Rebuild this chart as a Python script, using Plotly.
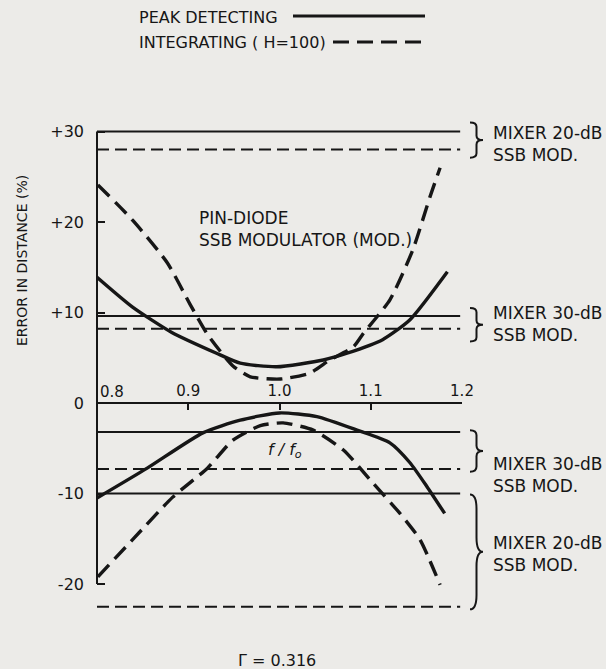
import plotly.graph_objects as go

# ---------------- data ----------------
# Peak detecting, positive error branch
peak_up_x = [0.800, 0.839, 0.882, 0.931, 0.957, 0.997, 1.048, 1.074, 1.113, 1.143, 1.184]
peak_up_y = [13.9, 10.6, 7.8, 5.5, 4.4, 4.0, 4.75, 5.5, 7.0, 9.2, 14.5]
# Integrating (H=100), positive error branch
int_up_x = [0.801, 0.839, 0.877, 0.902, 0.921, 0.949, 0.968, 1.001, 1.033, 1.055, 1.081, 1.092, 1.121, 1.146, 1.165, 1.176]
int_up_y = [24.1, 20.2, 15.5, 10.9, 7.6, 4.1, 2.9, 2.65, 3.3, 4.75, 6.2, 7.7, 11.4, 16.9, 22.8, 26.0]
# Peak detecting, negative error branch
peak_lo_x = [0.800, 0.855, 0.916, 0.957, 1.000, 1.041, 1.085, 1.121, 1.143, 1.162, 1.181]
peak_lo_y = [-10.5, -7.2, -3.3, -1.9, -1.1, -1.5, -3.0, -4.4, -6.6, -9.3, -12.2]
# Integrating (H=100), negative error branch
int_lo_x = [0.801, 0.839, 0.883, 0.921, 0.949, 0.979, 1.004, 1.037, 1.070, 1.102, 1.132, 1.154, 1.176]
int_lo_y = [-19.2, -15.1, -10.4, -7.2, -4.1, -2.5, -2.2, -3.0, -5.2, -8.8, -12.2, -15.1, -20.1]

# Mixer SSB modulator error levels (constant over f/f0)
mixer_x = [0.800, 1.198]
mixer20_peak = [30.0, -10.0]
mixer20_int = [28.0, -22.5]
mixer30_peak = [9.6, -3.2]
mixer30_int = [8.2, -7.3]

x_ticks = [0.8, 0.9, 1.0, 1.1, 1.2]
x_ticktext = ["0.8", "0.9", "1.0", "1.1", "1.2"]
y_ticks = [30, 20, 10, 0, -10, -20]
y_ticktext = ["+30", "+20", "+10", "0", "-10", "-20"]

# ---------------- layout geometry ----------------
W, H = 606, 669
ML, MR, MT, MB = 97, 144, 104, 40
ZERO_PX, PX_PER_UNIT = 403, 9.05
Y_MAX = (ZERO_PX - MT) / PX_PER_UNIT
Y_MIN = -((H - MB) - ZERO_PX) / PX_PER_UNIT
X_MIN, X_MAX = 0.8, 1.2

INK = "#161616"
BG = "#ecebe8"
FONT = "DejaVu Sans"


def xp(v):
    return (v - X_MIN) / (X_MAX - X_MIN)


def yp(v):
    return (v - Y_MIN) / (Y_MAX - Y_MIN)


def ppx(px):
    return (px - ML) / (W - ML - MR)


def ppy(py):
    return ((H - MB) - py) / (H - MT - MB)


fig = go.Figure()

CURVE_DASH = "16px,8px"
LEVEL_DASH = "12px,6px"

for xs, ys, dash in [
    (peak_up_x, peak_up_y, "solid"),
    (int_up_x, int_up_y, CURVE_DASH),
    (peak_lo_x, peak_lo_y, "solid"),
    (int_lo_x, int_lo_y, CURVE_DASH),
]:
    fig.add_trace(go.Scatter(x=xs, y=ys, mode="lines",
                             line=dict(color=INK, width=3.4, dash=dash,
                                       shape="spline", smoothing=0.6),
                             showlegend=False, hoverinfo="skip"))

for levels, dash in [(mixer20_peak, "solid"), (mixer20_int, LEVEL_DASH),
                     (mixer30_peak, "solid"), (mixer30_int, LEVEL_DASH)]:
    for lv in levels:
        fig.add_trace(go.Scatter(x=mixer_x, y=[lv, lv], mode="lines",
                                 line=dict(color=INK, width=2, dash=dash),
                                 showlegend=False, hoverinfo="skip"))

shapes = []
# left (ordinate) axis line from -20 to +30 with small foot
shapes.append(dict(type="line", xref="paper", yref="paper", x0=0, x1=0,
                   y0=yp(-20), y1=yp(30), line=dict(color=INK, width=2)))
shapes.append(dict(type="line", xref="paper", yref="paper", x0=0, x1=ppx(ML + 7),
                   y0=yp(-20), y1=yp(-20), line=dict(color=INK, width=2)))


def brace(top, bot, x0, x1):
    ym = (top + bot) / 2
    xm = (x0 + x1) / 2
    t, b, m = yp(top), yp(bot), yp(ym)
    c1 = (t - m) * 0.25
    c2 = (m - b) * 0.25
    return (f"M {x0},{t} Q {xm},{t} {xm},{t - c1} "
            f"L {xm},{m + c1} Q {xm},{m} {x1},{m} "
            f"Q {xm},{m} {xm},{m - c2} L {xm},{b + c2} Q {xm},{b} {x0},{b}")


bx0 = xp(X_MAX) + 8 / (W - ML - MR)
bx1 = xp(X_MAX) + 21 / (W - ML - MR)
brace_spans = [(31.0, 27.1), (10.5, 6.8), (-3.0, -7.6), (-10.1, -22.8)]
for top, bot in brace_spans:
    shapes.append(dict(type="path", xref="paper", yref="paper",
                       path=brace(top, bot, bx0, bx1),
                       line=dict(color=INK, width=2)))

# legend samples
shapes.append(dict(type="line", xref="paper", yref="paper",
                   x0=ppx(293), x1=ppx(425), y0=ppy(16), y1=ppy(16),
                   line=dict(color=INK, width=3)))
shapes.append(dict(type="line", xref="paper", yref="paper",
                   x0=ppx(333), x1=ppx(427), y0=ppy(42), y1=ppy(42),
                   line=dict(color=INK, width=3, dash=CURVE_DASH)))

ann = []
tf = dict(family=FONT, color=INK, size=16)
ann.append(dict(xref="paper", yref="paper", x=ppx(137), y=ppy(17),
                text="PEAK DETECTING", showarrow=False, xanchor="left",
                yanchor="middle", font=tf))
ann.append(dict(xref="paper", yref="paper", x=ppx(137), y=ppy(42),
                text="INTEGRATING ( H=100)", showarrow=False, xanchor="left",
                yanchor="middle", font=tf))

right_labels = [(28.6, "MIXER 20-dB<br>SSB MOD."), (8.7, "MIXER 30-dB<br>SSB MOD."),
                (-8.0, "MIXER 30-dB<br>SSB MOD."), (-16.7, "MIXER 20-dB<br>SSB MOD.")]
for yv, txt in right_labels:
    ann.append(dict(xref="paper", yref="paper", x=ppx(491), y=yp(yv), text=txt,
                    showarrow=False, xanchor="left", yanchor="middle", align="left",
                    font=dict(family=FONT, color=INK, size=17)))

# first abscissa label sits just right of the ordinate axis (as in the reference)
ann.append(dict(xref="x", yref="paper", x=x_ticks[0], y=ppy(392),
                text=x_ticktext[0], showarrow=False, xanchor="left",
                yanchor="middle", xshift=1,
                font=dict(family=FONT, color=INK, size=15)))

ann.append(dict(xref="x", yref="y", x=0.9096, y=19.2,
                text="PIN-DIODE<br>SSB MODULATOR (MOD.)", showarrow=False,
                xanchor="left", yanchor="middle", align="left",
                font=dict(family=FONT, color=INK, size=17)))
ann.append(dict(xref="x", yref="y", x=1.006, y=-5.3,
                text="<i>f / f<sub>o</sub></i>", showarrow=False,
                xanchor="center", yanchor="middle",
                font=dict(family=FONT, color=INK, size=16)))
ann.append(dict(xref="paper", yref="paper", x=ppx(22), y=ppy(261),
                text="ERROR IN DISTANCE (%)", showarrow=False, textangle=-90,
                xanchor="center", yanchor="middle",
                font=dict(family=FONT, color=INK, size=14)))
ann.append(dict(xref="paper", yref="paper", x=ppx(277), y=ppy(660),
                text="Γ = 0.316", showarrow=False, xanchor="center", yanchor="middle",
                font=dict(family=FONT, color=INK, size=16)))

fig.update_layout(
    width=W, height=H,
    margin=dict(l=ML, r=MR, t=MT, b=MB, pad=0),
    paper_bgcolor=BG, plot_bgcolor=BG,
    showlegend=False,
    shapes=shapes, annotations=ann,
    xaxis=dict(range=[X_MIN, X_MAX], tickvals=x_ticks[1:], ticktext=x_ticktext[1:],
               side="top", anchor="free", position=yp(0),
               showline=True, linecolor=INK, linewidth=2,
               ticks="inside", ticklen=6, tickwidth=2, tickcolor=INK,
               showgrid=False, zeroline=False,
               tickfont=dict(family=FONT, color=INK, size=15)),
    yaxis=dict(range=[Y_MIN, Y_MAX], tickvals=y_ticks, ticktext=y_ticktext,
               showline=False, ticks="inside", ticklen=8, tickwidth=2,
               tickcolor=INK, showgrid=False, zeroline=False,
               ticklabelstandoff=12,
               tickfont=dict(family=FONT, color=INK, size=16)),
)

fig.write_html("out.html")
